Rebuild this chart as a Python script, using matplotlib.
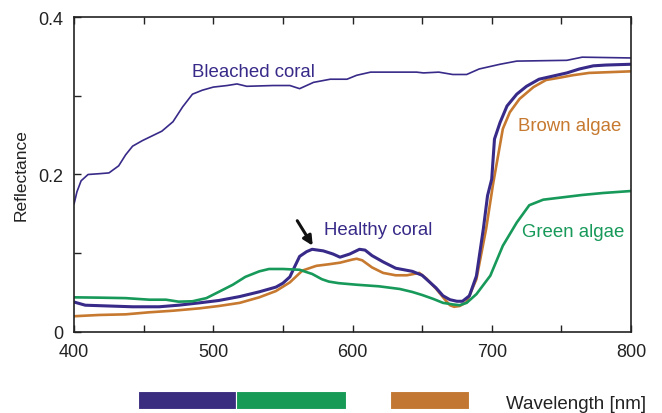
import matplotlib.pyplot as plt
from matplotlib.patches import Rectangle
import matplotlib.transforms as mtransforms

plt.rcParams['font.family'] = ['Liberation Sans', 'DejaVu Sans']

# spectra (wavelength nm, reflectance)
bleached_wl = [400, 402, 405, 410, 418, 425, 432, 437, 442, 449, 456, 463, 471, 478,
               485, 492, 500, 510, 517, 524, 543, 555, 562, 572, 584, 596, 603, 613,
               646, 651, 662, 672, 682, 691, 706, 718, 754, 765, 800]
bleached = [0.163, 0.178, 0.192, 0.200, 0.201, 0.202, 0.211, 0.225, 0.236, 0.243, 0.249,
            0.255, 0.267, 0.286, 0.302, 0.307, 0.311, 0.313, 0.315, 0.312, 0.313, 0.313,
            0.309, 0.317, 0.321, 0.321, 0.326, 0.330, 0.330, 0.329, 0.330, 0.327, 0.327,
            0.334, 0.340, 0.344, 0.345, 0.349, 0.348]

healthy_wl = [400, 408, 425, 442, 461, 475, 490, 504, 519, 533, 545, 550, 555, 559, 562,
              567, 571, 579, 586, 591, 598, 605, 609, 614, 622, 631, 643, 650, 655, 660,
              665, 670, 675, 679, 684, 689, 694, 697, 700, 702, 706, 711, 718, 725, 734,
              744, 754, 763, 773, 782, 800]
healthy = [0.038, 0.034, 0.033, 0.032, 0.032, 0.034, 0.037, 0.040, 0.045, 0.051, 0.057,
           0.062, 0.070, 0.085, 0.096, 0.102, 0.105, 0.103, 0.099, 0.095, 0.099, 0.105,
           0.104, 0.097, 0.089, 0.081, 0.077, 0.072, 0.064, 0.056, 0.046, 0.041, 0.039,
           0.039, 0.046, 0.071, 0.131, 0.173, 0.194, 0.245, 0.266, 0.287, 0.302, 0.312,
           0.321, 0.325, 0.329, 0.334, 0.338, 0.339, 0.340]

brown_wl = [400, 418, 437, 454, 471, 490, 504, 519, 533, 545, 555, 564, 574, 583, 591,
            600, 603, 607, 614, 622, 631, 639, 648, 653, 660, 666, 670, 673, 677, 682,
            689, 696, 701, 705, 708, 713, 720, 730, 739, 749, 758, 770, 785, 800]
brown = [0.020, 0.0216, 0.0224, 0.025, 0.027, 0.030, 0.033, 0.037, 0.044, 0.052, 0.063,
         0.078, 0.084, 0.086, 0.088, 0.092, 0.093, 0.091, 0.082, 0.075, 0.072, 0.072,
         0.075, 0.068, 0.055, 0.042, 0.034, 0.032, 0.033, 0.038, 0.067, 0.131, 0.188,
         0.228, 0.258, 0.279, 0.296, 0.311, 0.320, 0.323, 0.326, 0.329, 0.330, 0.331]

green_wl = [400, 418, 437, 454, 466, 475, 485, 495, 504, 514, 523, 533, 540, 550, 562,
            567, 571, 578, 583, 590, 603, 619, 634, 643, 650, 658, 665, 672, 677, 682,
            689, 699, 708, 718, 727, 737, 751, 765, 780, 800]
green = [0.044, 0.0436, 0.043, 0.041, 0.041, 0.0385, 0.039, 0.043, 0.051, 0.060, 0.070,
         0.077, 0.080, 0.080, 0.079, 0.076, 0.0737, 0.067, 0.064, 0.062, 0.060, 0.058,
         0.0546, 0.0508, 0.047, 0.042, 0.037, 0.035, 0.034, 0.037, 0.048, 0.0715, 0.1095,
         0.139, 0.161, 0.168, 0.171, 0.174, 0.1765, 0.179]

# colour bands under the axis (start, end nm)
band_edges = [(446, 516), (516, 595), (627, 684)]

xticks = [400, 450, 500, 550, 600, 650, 700, 750, 800]
xtick_labels = ['400', '', '500', '', '600', '', '700', '', '800']
yticks = [0, 0.1, 0.2, 0.3, 0.4]
ytick_labels = ['0', '', '0.2', '', '0.4']

c_blue = '#372a88'
c_green = '#17995a'
c_brown = '#c6792f'
band_colors = ['#3a2d80', '#169a55', '#c27832']

fig = plt.figure(figsize=(6.62, 4.14), dpi=100)
ax = fig.add_axes([0.112, 0.1957, 0.841, 0.7608])

ax.plot(brown_wl, brown, color=c_brown, lw=1.9)
ax.plot(healthy_wl, healthy, color=c_blue, lw=2.2)
ax.plot(green_wl, green, color=c_green, lw=1.9)
ax.plot(bleached_wl, bleached, color=c_blue, lw=1.2)

ax.set_xlim(400, 800)
ax.set_ylim(0, 0.4)
ax.set_xticks(xticks)
ax.set_xticklabels(xtick_labels)
ax.set_yticks(yticks)
ax.set_yticklabels(ytick_labels)
ax.tick_params(direction='in', length=5, width=1, labelsize=13, colors='#222222',
               top=True, right=False)
ax.tick_params(axis='x', pad=8)
ax.tick_params(axis='y', pad=8)
for s in ax.spines.values():
    s.set_linewidth(1.2)
    s.set_color('#222222')

ax.set_ylabel('Reflectance', fontsize=12.5, color='#222222', labelpad=7)

ax.text(485, 0.3255, 'Bleached coral', color=c_blue, fontsize=13.4, va='baseline')
ax.text(579.5, 0.1245, 'Healthy coral', color=c_blue, fontsize=13.4, va='baseline')
ax.text(719, 0.2565, 'Brown algae', color=c_brown, fontsize=13.4, va='baseline')
ax.text(722, 0.1215, 'Green algae', color=c_green, fontsize=13.4, va='baseline')
ax.annotate('', xy=(571.4, 0.1096), xytext=(560.3, 0.1413),
            arrowprops=dict(arrowstyle='-|>', color='#111111', lw=2.2,
                            mutation_scale=14, shrinkA=0, shrinkB=0))

trans = mtransforms.blended_transform_factory(ax.transData, ax.transAxes)
for (x0, x1), col in zip(band_edges, band_colors):
    ax.add_patch(Rectangle((x0, -0.2454), x1 - x0, 0.0591, transform=trans,
                           facecolor=col, edgecolor='white', lw=0.8, clip_on=False))

fig.text(506 / 662, 1 - 409 / 414, 'Wavelength [nm]', fontsize=13.5,
         color='#222222', va='baseline', ha='left')

fig.savefig('out.png', dpi=100)
